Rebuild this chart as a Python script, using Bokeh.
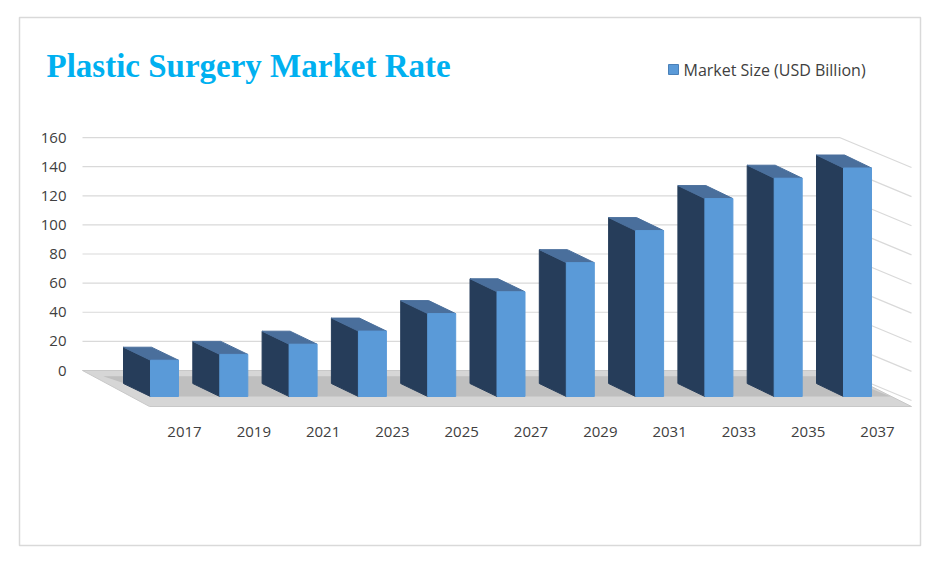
from bokeh.plotting import figure
from bokeh.embed import file_html
from bokeh.resources import INLINE
from bokeh.core.properties import value

years = ["2017","2019","2021","2023","2025","2027","2029","2031","2033","2035","2037"]
market_size = [16, 20, 27, 36, 48, 63, 83, 105, 127, 141, 148]
y_ticks = [0, 20, 40, 60, 80, 100, 120, 140, 160]
y_tick_labels = [str(t) for t in y_ticks]

W, H = 926, 551
SX, SY = 69.3, 1.456          # px per category / px per unit
X0, Y0 = 116, 363             # figure px of index 0 / value 0
def px(x): return (x - X0) / SX
def py(y): return (Y0 - y) / SY

p = figure(width=W, height=H, output_backend="svg", toolbar_location=None,
           x_range=(px(-7), px(W - 7)), y_range=(py(H - 7), py(-7)), min_border=0)
p.axis.visible = False
p.grid.visible = False
p.outline_line_color = None
p.background_fill_color = "white"

# border
p.patch([px(12), px(913), px(913), px(12)], [py(10), py(10), py(538), py(538)],
        fill_color=None, line_color="#d9d9d9", line_width=1.5)

DX = 27 / SX
DY = 13 / SY
FW = 28 / SX
wall_l, wall_r, side_r = px(75), px(832), px(904)
side_drop = 30 / SY

# gridlines (back wall + side wall)
for t in y_ticks:
    p.line([wall_l, wall_r, side_r], [t, t, t - side_drop], line_color="#d9d9d9", line_width=1.2)

# floor
p.patch([wall_l, wall_r, side_r, px(142)], [0, 0, -36 / SY, -36 / SY],
        fill_color="#d6d6d6", line_color="#c8c8c8")
p.patch([wall_l + 0.3, wall_r, side_r - 0.3, px(142) + 0.2], [-4, -4, -26 / SY, -26 / SY],
        fill_color="#a8a8a8", fill_alpha=0.5, line_color=None)

# bars
for i, v in enumerate(market_size):
    xb = i
    p.patch([xb, xb + DX, xb + DX, xb], [v, v - DY, -26 / SY, -DY],
            fill_color="#263d5a", line_color="#263d5a")
    p.patch([xb, xb + FW, xb + FW + DX, xb + DX], [v, v, v - DY, v - DY],
            fill_color="#4a6f9c", line_color="#4a6f9c")
    p.patch([xb + DX, xb + DX + FW, xb + DX + FW, xb + DX], [v - DY, v - DY, -26 / SY, -26 / SY],
            fill_color="#5a9ad8", line_color="#5a9ad8")

# y tick labels
p.text(x=[px(59)] * len(y_ticks), y=y_ticks, text=y_tick_labels, text_align="right",
       text_baseline="middle", text_font=value("Open Sans"), text_font_size="15px", text_color="#404040")
# x tick labels
p.text(x=[i + px(177) for i in range(len(years))], y=[py(424)] * len(years), text=years,
       text_align="center", text_baseline="middle", text_font=value("Open Sans"),
       text_font_size="15px", text_color="#404040")

# title
p.text(x=[px(39)], y=[py(58)], text=["Plastic Surgery Market Rate"], text_baseline="middle",
       text_font=value("Liberation Serif"), text_font_style="bold", text_font_size="33px",
       text_color="#00b0f0")
# legend
p.patch([px(661), px(671), px(671), px(661)], [py(57), py(57), py(67), py(67)],
        fill_color="#5a9ad8", line_color="#4a80b8")
p.text(x=[px(676)], y=[py(62)], text=["Market Size (USD Billion)"], text_baseline="middle",
       text_font=value("Open Sans"), text_font_size="16px", text_color="#404040")

open("out.html", "w").write(file_html(p, INLINE))
